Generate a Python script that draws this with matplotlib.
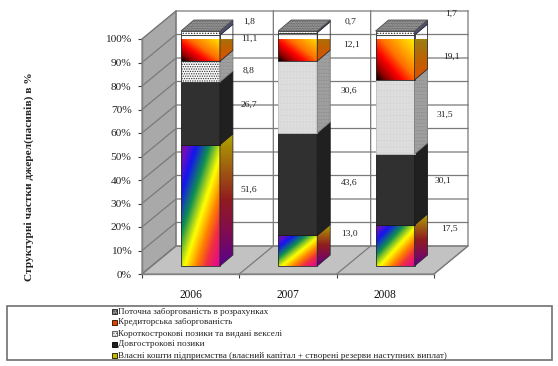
import numpy as np
import matplotlib
matplotlib.use("Agg")
import matplotlib.pyplot as plt
from matplotlib.patches import Polygon, Rectangle
from matplotlib.colors import LinearSegmentedColormap as LSC
from matplotlib.ticker import PercentFormatter
from matplotlib.transforms import Affine2D

YEARS = ["2006", "2007", "2008"]
OWN = [51.6, 13.0, 17.5]
LONG_TERM = [26.7, 43.6, 30.1]
SHORT_TERM = [8.8, 30.6, 31.5]
PAYABLES = [11.1, 12.1, 19.1]
CURRENT = [1.8, 0.7, 1.7]
LABELS = [
    ["51,6", "26,7", "8,8", "11,1", "1,8"],
    ["13,0", "43,6", "30,6", "12,1", "0,7"],
    ["17,5", "30,1", "31,5", "19,1", "1,7"],
]
LEGEND = [
    "Поточна заборгованість в розрахунках",
    "Кредиторська заборгованість",
    "Короткострокові позики та видані векселі",
    "Довгострокові позики",
    "Власні кошти підприємства (власний капітал + створені резерви наступних виплат)",
]
YTITLE = "Структурні частки джерел(пасивів) в %"

# pixel placement of the value labels (centres)
LABEL_PX = [
    [(249, 190), (249, 105), (249, 71), (249, 39), (249, 22)],
    [(349, 234), (349, 183), (349, 91), (351, 45), (351, 22)],
    [(449, 229), (443, 181), (445, 115), (451, 57), (451, 14)],
]

W, H = 558, 366
plt.rcParams["font.family"] = ["Liberation Serif", "DejaVu Serif"]
plt.rcParams["hatch.linewidth"] = 0.6
fig = plt.figure(figsize=(W / 100, H / 100), dpi=100)
ax = fig.add_axes([142 / W, (H - 274) / H, 292 / W, 235 / H])
px = Affine2D().scale(1, -1).translate(0, H)  # figure pixels, origin top-left

PX_X = 292 / 3
PX_Y = 2.35
WALL_DX, WALL_DY = 34 / PX_X, 28 / PX_Y
BAR_DY = 8 / PX_Y
SIDE_DX, SIDE_DY = 13 / PX_X, 11 / PX_Y
BAR_W = 39 / PX_X
GRID = "#808080"
z = [2]


def nz():
    z[0] += 1
    return z[0]


# walls and floor
ax.add_patch(Polygon([(0, 0), (WALL_DX, WALL_DY), (WALL_DX, 100 + WALL_DY), (0, 100)],
                     fc="#a9a9a9", ec=GRID, lw=0.8, zorder=nz(), clip_on=False))
ax.add_patch(Polygon([(0, 0), (3, 0), (3 + WALL_DX, WALL_DY), (WALL_DX, WALL_DY)],
                     fc="#c2c2c2", ec=GRID, lw=0.8, zorder=nz(), clip_on=False))
for v in range(0, 101, 10):
    ax.plot([0, WALL_DX, 3 + WALL_DX], [v, v + WALL_DY, v + WALL_DY], color="#7a7a7a",
            lw=0.9, zorder=nz(), clip_on=False)
for c in range(0, 4):
    ax.plot([c, c + WALL_DX, c + WALL_DX], [0, WALL_DY, 100 + WALL_DY], color="#7a7a7a",
            lw=0.9, zorder=nz(), clip_on=False)

RAINBOW = LSC.from_list("r", [(0, "#7a0a90"), (.08, "#6a10c0"), (.2, "#1414f0"), (.37, "#109050"),
                              (.47, "#a0d020"), (.55, "#ffff00"), (.7, "#ff8000"), (.82, "#f03040"),
                              (1, "#e000a0")])
RAINBOW_SIDE = LSC.from_list("rs", ["#b0a800", "#a06010", "#901c20", "#800c50", "#5a0090"])
FIRE = LSC.from_list("f", [(0, "#000000"), (.15, "#900000"), (.33, "#ff0000"), (.52, "#ff7000"), (.88, "#ffdd00"), (1, "#ffe800")])
FIRE_SIDE = LSC.from_list("fs", ["#b0a000", "#a07810", "#c06000", "#e05000"])


def diag(n=128, flip=False):
    u, v = np.meshgrid(np.linspace(0, 1, n), np.linspace(0, 1, n))  # v=0 at the top row
    return (u + (1 - v)) / 2 if flip else (u + v) / 2


def grad_poly(poly, data, cmap, zo):
    xs, ys = zip(*poly)
    im = ax.imshow(data, cmap=cmap, vmin=0, vmax=1, extent=[min(xs), max(xs), min(ys), max(ys)],
                   origin="upper", aspect="auto", zorder=zo, interpolation="bilinear", clip_on=True)
    clip = Polygon(poly, transform=ax.transData, fc="none", ec="none")
    im.set_clip_path(clip)
    ax.add_patch(Polygon(poly, fc="none", ec="#2a2a2a", lw=0.6, zorder=zo, clip_on=False))


def draw_seg(x0, y0, y1, kind, dense):
    x1 = x0 + BAR_W
    front = [(x0, y0), (x1, y0), (x1, y1), (x0, y1)]
    side = [(x1, y0), (x1 + SIDE_DX, y0 + SIDE_DY), (x1 + SIDE_DX, y1 + SIDE_DY), (x1, y1)]
    zo = nz()
    if kind == "own":
        grad_poly(front, diag(), RAINBOW, zo)
        grad_poly(side, np.linspace(0, 1, 128)[:, None], RAINBOW_SIDE, zo)
    elif kind == "long":
        ax.add_patch(Polygon(front, fc="#303030", ec="#1a1a1a", lw=0.6, zorder=zo, clip_on=False))
        ax.add_patch(Polygon(side, fc="#202020", ec="#1a1a1a", lw=0.6, zorder=zo, clip_on=False))
    elif kind == "short":
        h = "." * 14 if dense else "." * 7
        ec = "#bdbdbd" if dense else "#303030"
        ax.add_patch(Polygon(front, fc="#f8f8f8", ec=ec, lw=0.6, hatch=h, zorder=zo, clip_on=False))
        ax.add_patch(Polygon(side, fc="#b4b4b4", ec="#7a7a7a", lw=0.6, hatch="." * 12, zorder=zo, clip_on=False))
    elif kind == "pay":
        grad_poly(front, diag(flip=True), FIRE, zo)
        grad_poly(side, np.linspace(0, 1, 128)[:, None], FIRE_SIDE, zo)
    else:
        ax.add_patch(Polygon(front, fc="#ffffff", ec="#303030", lw=0.6, hatch="......", zorder=zo, clip_on=False))
        ax.add_patch(Polygon(side, fc="#505070", ec="#303040", lw=0.6, zorder=zo, clip_on=False))


KINDS = ["own", "long", "short", "pay", "cur"]
SERIES = [OWN, LONG_TERM, SHORT_TERM, PAYABLES, CURRENT]
for i in range(len(YEARS)):
    x0 = i + 0.6 - BAR_W / 2
    vals = np.array([s[i] for s in SERIES], float)
    pct = np.cumsum(vals) / vals.sum() * 100
    bot = 0
    for k, top in zip(KINDS, pct):
        draw_seg(x0, BAR_DY + bot, BAR_DY + top, k, i > 0)
        bot = top
    yt = BAR_DY + 100
    ax.add_patch(Polygon([(x0, yt), (x0 + BAR_W, yt), (x0 + BAR_W + SIDE_DX, yt + SIDE_DY), (x0 + SIDE_DX, yt + SIDE_DY)],
                         fc="#a0a0a0", ec="#505050", lw=0.6, hatch="." * 10, zorder=nz(), clip_on=False))

ax.set_xlim(0, 3)
ax.set_ylim(0, 100)
for s in ("top", "right"):
    ax.spines[s].set_visible(False)
for s in ("left", "bottom"):
    ax.spines[s].set_color(GRID)
    ax.spines[s].set_linewidth(1.0)
    ax.spines[s].set_zorder(1000)
ax.set_yticks(range(0, 101, 10))
ax.yaxis.set_major_formatter(PercentFormatter(100, decimals=0))
ax.set_xticks(range(0, 4))
ax.set_xticklabels([])
ax.set_xticks(np.arange(len(YEARS)) + 0.5, YEARS, minor=True)
ax.tick_params(axis="x", which="minor", length=0, pad=11, labelsize=8.3, labelcolor="#111111")
ax.tick_params(axis="x", which="major", length=3, color="#404040", width=0.8)
ax.tick_params(axis="y", length=3, color="#404040", width=0.8, labelsize=8.2, pad=4.5, labelcolor="#222222")

for row_txt, row_px in zip(LABELS, LABEL_PX):
    for t, (x, y) in zip(row_txt, row_px):
        fig.text(x, y, t, transform=px, ha="center", va="center", fontsize=6.8, color="#222222", zorder=5000)

fig.text(29, 176.5, YTITLE, transform=px, rotation=90, ha="center", va="center",
         fontsize=8.2, fontweight="bold", color="#222222")

# legend box
fig.add_artist(Rectangle((7, 306), 545, 54, transform=px, fc="white", ec="#707070", lw=1.2))
SW = [("#909090", "......", "#303030"), ("#e04000", None, "#402000"), ("#f0f0f0", "......", "#606060"),
      ("#202020", None, "#101010"), ("#c8b800", None, "#303000")]
for j, (lab, sw) in enumerate(zip(LEGEND, SW)):
    yc = 311.5 + j * 11
    fig.add_artist(Rectangle((112, yc + 2.5), 5, -5, transform=px, fc=sw[0], ec=sw[2], lw=0.7, hatch=sw[1]))
    fig.text(118, yc, lab, transform=px, ha="left", va="center", fontsize=6.6, color="#222222")

fig.savefig("out.png", dpi=100)
